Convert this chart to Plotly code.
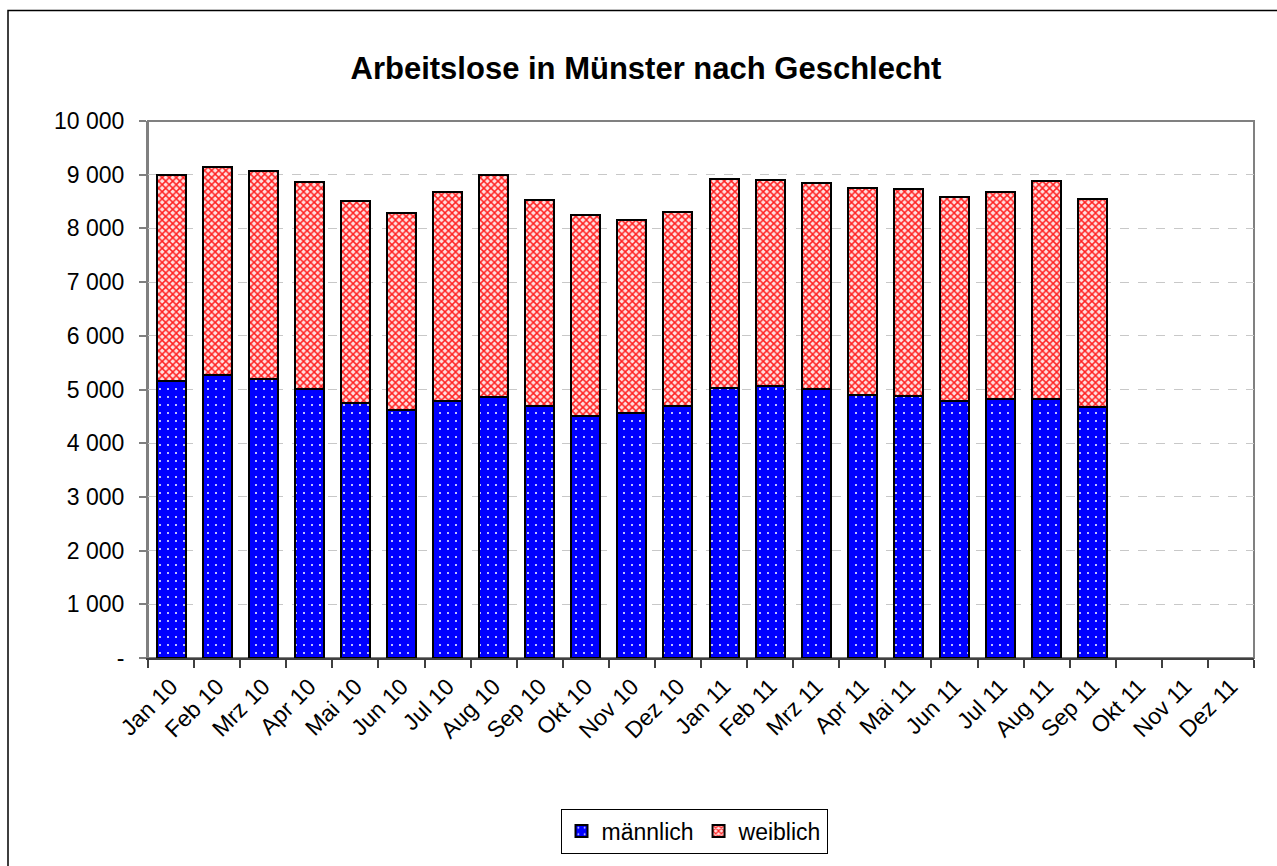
import plotly.graph_objects as go

months = ["Jan 10", "Feb 10", "Mrz 10", "Apr 10", "Mai 10", "Jun 10", "Jul 10", "Aug 10",
          "Sep 10", "Okt 10", "Nov 10", "Dez 10", "Jan 11", "Feb 11", "Mrz 11", "Apr 11",
          "Mai 11", "Jun 11", "Jul 11", "Aug 11", "Sep 11", "Okt 11", "Nov 11", "Dez 11"]

maennlich = [5150, 5265, 5190, 5005, 4755, 4615, 4785, 4865, 4690, 4505, 4555, 4700,
             5025, 5070, 5005, 4895, 4875, 4785, 4830, 4830, 4680, None, None, None]

weiblich = [3850, 3875, 3875, 3860, 3750, 3680, 3885, 4135, 3845, 3750, 3600, 3600,
            3900, 3835, 3845, 3860, 3860, 3795, 3850, 4060, 3875, None, None, None]

y_tickvals = [0, 1000, 2000, 3000, 4000, 5000, 6000, 7000, 8000, 9000, 10000]
y_ticktext = ["-", "1 000", "2 000", "3 000", "4 000", "5 000", "6 000", "7 000",
              "8 000", "9 000", "10 000"]

title_text = "Arbeitslose in Münster nach Geschlecht"

FONT = "Liberation Sans, Arial, sans-serif"

fig = go.Figure()
fig.add_trace(go.Bar(
    name="männlich", x=months, y=maennlich,
    marker=dict(color="#0000FF",
                line=dict(color="black", width=2),
                pattern=dict(shape=".", fgcolor="white", bgcolor="#0000FF",
                             size=8, solidity=0.05, fillmode="replace")),
))
fig.add_trace(go.Bar(
    name="weiblich", x=months, y=weiblich,
    marker=dict(color="#FF6060",
                line=dict(color="black", width=2),
                pattern=dict(shape="x", fgcolor="#FF2020", bgcolor="#FFE0E0",
                             size=5, solidity=0.5, fillmode="replace")),
))

fig.update_layout(
    width=1277, height=866,
    barmode="stack", bargap=0.37,
    paper_bgcolor="white", plot_bgcolor="white",
    margin=dict(l=148, r=23, t=121, b=205),
    font=dict(family=FONT, size=23, color="black"),
    title=dict(text="<b>" + title_text + "</b>", x=646 / 1277, xanchor="center",
               y=1 - 68 / 866, yanchor="middle",
               font=dict(family=FONT, size=31, color="black")),
    showlegend=True,
    legend=dict(orientation="h", x=(694 - 148) / 1106, xanchor="center",
                y=(661 - 835) / 540, yanchor="middle",
                bordercolor="black", borderwidth=1, bgcolor="white",
                font=dict(family=FONT, size=23, color="black"),
                itemwidth=30, traceorder="normal", tracegroupgap=0),
    xaxis=dict(type="category", categoryorder="array", categoryarray=months,
               range=[-0.5, 23.5], tickangle=-45, ticks="outside", ticklen=8,
               tickwidth=2, tickcolor="#404040",
               tickson="boundaries", showgrid=False, showline=True,
               linecolor="#404040", linewidth=2, zeroline=False,
               ticklabelstandoff=4,
               tickfont=dict(family=FONT, size=23, color="black")),
    yaxis=dict(range=[0, 10000], tickvals=y_tickvals, ticktext=y_ticktext,
               ticks="outside", ticklen=7, tickwidth=1.5, tickcolor="#808080",
               showgrid=True, gridcolor="#C8C8C8", griddash="dash", gridwidth=1,
               showline=True, linecolor="#808080", linewidth=2, zeroline=False,
               ticklabelstandoff=10,
               tickfont=dict(family=FONT, size=23, color="black")),
    shapes=[
        dict(type="rect", xref="paper", yref="paper", x0=0, x1=1, y0=0, y1=1,
             line=dict(color="#808080", width=2), layer="below"),
        dict(type="rect", xref="paper", yref="paper",
             x0=(8 - 148) / 1106, x1=(1290 - 148) / 1106,
             y0=(661 - 880) / 540, y1=(661 - 10) / 540,
             line=dict(color="black", width=1.5), layer="below"),
    ],
)

fig.write_html("out.html", config={"displayModeBar": False},
               post_script="document.body.style.margin='0';")
